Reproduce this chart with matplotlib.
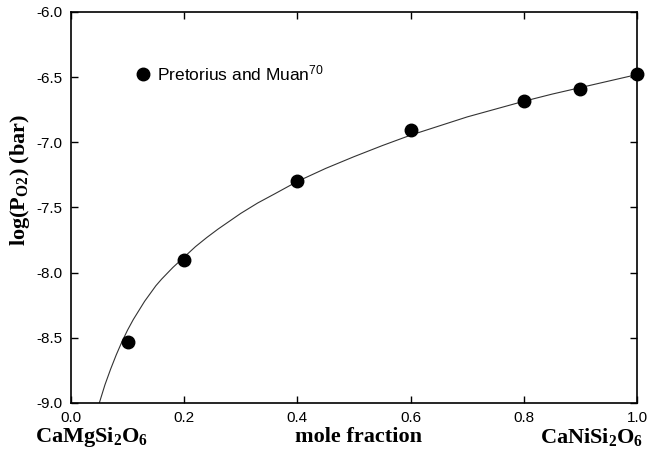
import numpy as np
import matplotlib
matplotlib.use('Agg')
import matplotlib.pyplot as plt

# measured data (Pretorius and Muan)
x_pts = [0.1, 0.2, 0.4, 0.6, 0.8, 0.9, 1.0]
y_pts = [-8.53, -7.90, -7.295, -6.905, -6.685, -6.59, -6.475]

# model curve
x_fit = [0.05, 0.055, 0.06, 0.07, 0.08, 0.09, 0.10, 0.11, 0.12, 0.13, 0.14, 0.15,
         0.16, 0.18, 0.20, 0.22, 0.24, 0.26, 0.28, 0.30, 0.33, 0.36, 0.40, 0.45,
         0.50, 0.55, 0.60, 0.65, 0.70, 0.75, 0.80, 0.85, 0.90, 0.95, 1.00]
y_fit = [-9.00, -8.93, -8.86, -8.74, -8.63, -8.53, -8.44, -8.36, -8.29, -8.22, -8.16, -8.10,
         -8.05, -7.96, -7.88, -7.80, -7.73, -7.665, -7.605, -7.545, -7.465, -7.395, -7.30, -7.20,
         -7.11, -7.025, -6.945, -6.875, -6.805, -6.745, -6.685, -6.63, -6.58, -6.53, -6.48]

x_ticks = [0.0, 0.2, 0.4, 0.6, 0.8, 1.0]
y_ticks = [-9.0, -8.5, -8.0, -7.5, -7.0, -6.5, -6.0]

plt.rcParams['font.family'] = ['Liberation Sans', 'DejaVu Sans']
plt.rcParams['mathtext.default'] = 'regular'

fig = plt.figure(figsize=(6.62, 4.61), dpi=100)
ax = fig.add_axes([71/662, 1 - 403/461, 566/662, 391/461])

ax.plot(x_fit, y_fit, color='#333333', lw=0.8, zorder=2)
ax.plot(x_pts, y_pts, 'o', color='black', ms=9, label='Pretorius and Muan$^{70}$',
        clip_on=False, zorder=3)

ax.set_xlim(0, 1)
ax.set_ylim(-9, -6)
ax.set_xticks(x_ticks)
ax.set_yticks(y_ticks)
ax.set_xticklabels([f'{v:.1f}' for v in x_ticks])
ax.set_yticklabels([f'{v:.1f}' for v in y_ticks])
ax.tick_params(direction='in', length=5, width=1.0, top=True, right=True,
               labelsize=11, pad=6)
for s in ax.spines.values():
    s.set_linewidth(1.2)

ax.legend(loc='upper left', bbox_to_anchor=(0.112, 0.868), frameon=False,
          handlelength=1.0, handletextpad=0.3, fontsize=12.5, borderpad=0,
          borderaxespad=0)

serif = ['Liberation Serif', 'DejaVu Serif']
fig.text(358/662, 1 - 437/461, 'mole fraction', family=serif, fontweight='bold',
         fontsize=16, ha='center', va='center')
fig.text(35/662, 1 - 437/461, 'CaMgSi$_2$O$_6$', family=serif, fontweight='bold',
         fontsize=16, ha='left', va='center')
fig.text(643/662, 1 - 437/461, 'CaNiSi$_2$O$_6$', family=serif, fontweight='bold',
         fontsize=16, ha='right', va='center')
fig.text(20/662, 1 - 180/461, 'log(P$_{O2}$) (bar)', family=serif, fontweight='bold',
         fontsize=16, ha='center', va='center', rotation=90)

fig.savefig('out.png', dpi=100)
